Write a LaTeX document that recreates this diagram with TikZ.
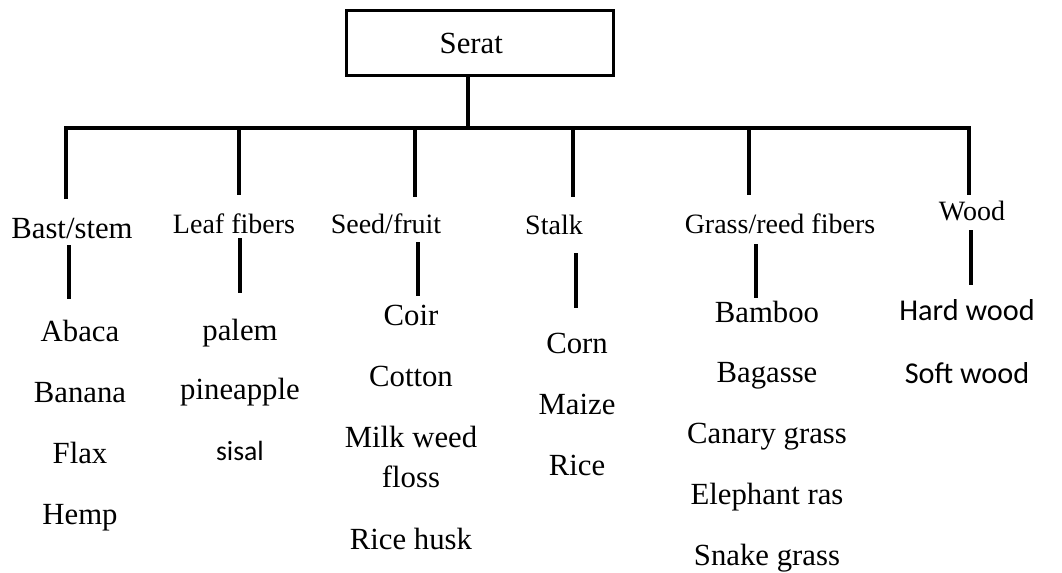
\documentclass[tikz,border=0pt]{standalone}
\usepackage{fontspec}
\setmainfont{Liberation Serif}
\newfontfamily\calibri{Carlito}
\usetikzlibrary{positioning}

\begin{document}
\begin{tikzpicture}[
    x=0.4pt, y=-0.4pt,
    line width=1.3pt,
    rootbox/.style={rectangle, draw, minimum width=107pt, minimum height=26pt, font=\fontsize{12.3}{15}\selectfont},
    cat/.style={anchor=base, inner sep=0pt, font=\fontsize{11.2}{13}\selectfont},
    item/.style={anchor=base, inner sep=0pt, align=center, font=\fontsize{12.3}{16}\selectfont}
]
    \useasboundingbox (0,0) rectangle (1062,573);

    % Root box
    \node[rootbox] (root) at (480,43) {\hspace*{-7pt}Serat};
    \coordinate (hub) at (468,128);

    % Bar taps and drop ends
    \foreach \n/\tx/\ty/\lx/\la/\lb in {bast/66/199/69/245/299, leaf/239/195/240/238/293,
        seed/415/197/418/242/296, stalk/573/197/576/253/308,
        grass/749/195/756/244/298, wood/969/195/971/230/285} {
        \coordinate (\n-tap) at (\tx,128);
        \coordinate (\n-end) at (\tx,\ty);
        \coordinate (\n-up) at (\lx,\la);
        \coordinate (\n-dn) at (\lx,\lb);
    }

    % Tree lines
    \draw (hub |- root.south) -- (hub);
    \draw (bast-end) -- (bast-tap) -- (wood-tap) -- (wood-end);
    \foreach \n in {leaf, seed, stalk, grass}
        \draw (\n-tap) -- (\n-end);
    \foreach \n in {bast, leaf, seed, stalk, grass, wood}
        \draw (\n-up) -- (\n-dn);

    % Categories
    \node[cat, font=\fontsize{12.3}{15}\selectfont] (bast) at (72,238) {Bast/stem};
    \node[cat] (leaf) at (234,233) {Leaf fibers};
    \node[cat] (seed) at (386,233) {Seed/fruit};
    \node[cat] (stalk) at (554,234) {Stalk};
    \node[cat] (grass) at (780,233) {Grass/reed fibers};
    \node[cat] (wood) at (972,220) {Wood};

    % Items
    \foreach \t [count=\k] in {Abaca, Banana, Flax, Hemp}
        \node[item] (bast-\k) at (80,{341+61*(\k-1)}) {\t};

    \node[item] (leaf-1) at (240,340) {palem};
    \node[item] (leaf-2) at (240,399) {pineapple};
    \node[item, font=\calibri\fontsize{11.1}{13}\selectfont] (leaf-3) at (240,460) {sisal};

    \node[item] (seed-1) at (411,325) {Coir};
    \node[item] (seed-2) at (411,386) {Cotton};
    \node[item] (seed-3) at (411,487) {Milk weed\\floss};
    \node[item] (seed-4) at (411,549) {Rice husk};

    \foreach \t [count=\k] in {Corn, Maize, Rice}
        \node[item] (stalk-\k) at (577,{353+61*(\k-1)}) {\t};

    \foreach \t [count=\k] in {Bamboo, Bagasse, Canary grass, Elephant ras, Snake grass}
        \node[item] (grass-\k) at (767,{322+60.75*(\k-1)}) {\t};

    \node[item, font=\calibri\fontsize{12.1}{15}\selectfont] (wood-1) at (967,320) {Hard wood};
    \node[item, font=\calibri\fontsize{12.1}{15}\selectfont] (wood-2) at (967,383) {Soft wood};
\end{tikzpicture}
\end{document}
